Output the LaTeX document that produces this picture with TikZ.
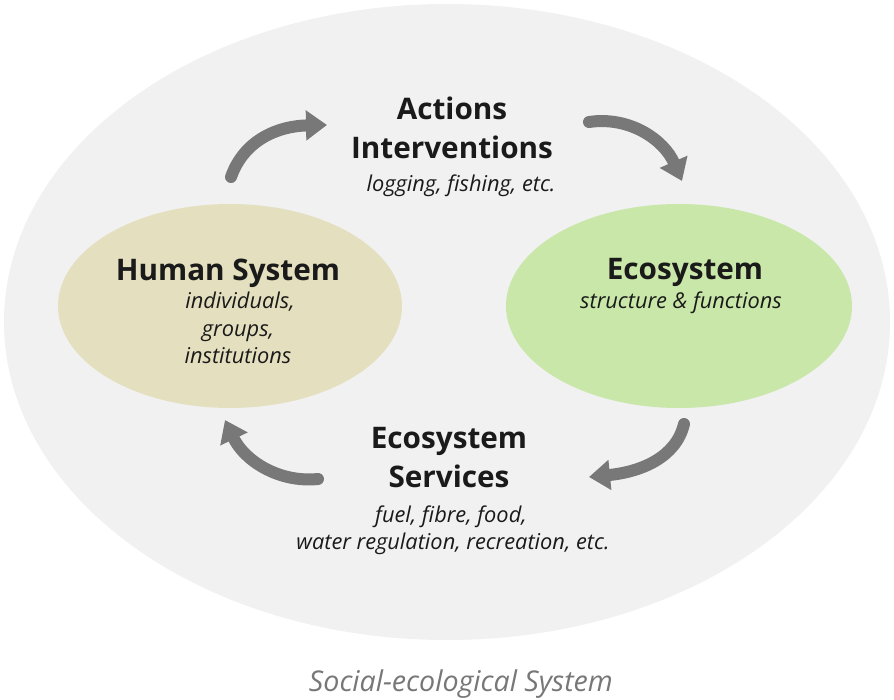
\documentclass[tikz,border=0pt]{standalone}
\usepackage{fontspec}
\setmainfont{Open Sans}
\usetikzlibrary{arrows.meta}
\definecolor{bgell}{HTML}{F1F1F1}
\definecolor{humanfill}{HTML}{E4E0BF}
\definecolor{ecofill}{HTML}{C9E7A9}
\definecolor{arrgray}{HTML}{787878}
\definecolor{txt}{HTML}{1A1A1A}
\definecolor{captxt}{HTML}{777777}
\tikzset{
  head/.style={font=\fontsize{29.7}{36}\selectfont\bfseries, text=txt, inner sep=0pt, anchor=base, align=center},
  sub/.style={font=\fontsize{21.8}{27}\selectfont\itshape, text=txt, inner sep=0pt, anchor=base, align=center},
  captext/.style={font=\fontsize{28.6}{32}\selectfont\itshape, text=captxt, inner sep=0pt, anchor=base},
  arr/.style={draw=arrgray, line width=12pt, line cap=round, -{Triangle[length=21pt,width=29pt]}},
}
\begin{document}
\begin{tikzpicture}[x=1pt,y=-1pt]
\useasboundingbox (0,0) rectangle (894,700);
\fill[white] (0,0) rectangle (894,700);
\fill[bgell] (447,322) ellipse [x radius=443, y radius=318];
\fill[humanfill] (230,306) ellipse [x radius=172, y radius=102];
\fill[ecofill] (679,306) ellipse [x radius=173, y radius=102];

\node[head] (act) at (452,120) {Actions};
\node[head] (int) at (452,159) {Interventions};
\node[sub] (log) at (461,192) {logging, fishing, etc.};

\node[head] (hs) at (228,281) {Human System};
\node[sub] (ind) at (240,309) {individuals,};
\node[sub] (grp) at (238,337) {groups,};
\node[sub] (ins) at (238,364) {institutions};

\node[head] (eco) at (685,280) {Ecosystem};
\node[sub] (str) at (681,309) {structure \& functions};

\node[head] (es1) at (449,448) {Ecosystem};
\node[head] (es2) at (449,487) {Services};
\node[sub] (es3) at (451,522) {fuel, fibre, food,};
\node[sub] (es4) at (453,549) {water regulation, recreation, etc.};

\node[captext] (ses) at (461,691) {Social-ecological System};

\coordinate (a1s) at (231,177);
\coordinate (a1e) at (327,125);
\coordinate (a2s) at (589,122);
\coordinate (a2e) at (682,181);
\coordinate (a3s) at (684,424);
\coordinate (a3e) at (589,477);
\coordinate (a4s) at (318,479);
\coordinate (a4e) at (225,420);

\draw[arr] (a1s) .. controls (244,140) and (278,126) .. (a1e);
\draw[arr] (a2s) .. controls (630,116) and (664,140) .. (a2e);
\draw[arr] (a3s) .. controls (676,458) and (640,472) .. (a3e);
\draw[arr] (a4s) .. controls (278,483) and (244,460) .. (a4e);
\end{tikzpicture}
\end{document}
